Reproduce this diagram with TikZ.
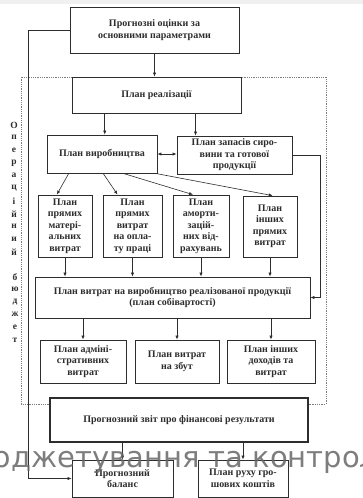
\documentclass[tikz,border=0pt]{standalone}
\usepackage{fontspec}
\setmainfont{Liberation Serif}
\newfontfamily\wmfont{DejaVu Sans}
\usetikzlibrary{arrows.meta,positioning,calc}
\definecolor{InkGrey}{RGB}{45,45,45}
\definecolor{FrameGrey}{RGB}{125,125,125}

\begin{document}
\begin{tikzpicture}[
  x=1pt,y=-1pt,
  box/.style={rectangle,draw=InkGrey,line width=0.7pt,fill=white,align=center,inner sep=1pt,font=\fontsize{10}{11.5}\selectfont\bfseries,text=InkGrey},
  arr/.style={-{Latex[length=4pt,width=3.2pt]},line width=0.6pt,draw=InkGrey},
  dbl/.style={{Latex[length=4pt,width=3.2pt]}-{Latex[length=4pt,width=3.2pt]},line width=0.6pt,draw=InkGrey},
  frame/.style={densely dotted,line width=0.8pt,draw=FrameGrey},
  lbl/.style={font=\fontsize{9.5}{10}\selectfont\bfseries,text=InkGrey,inner sep=0pt},
  wm/.style={font=\wmfont\fontsize{29}{30}\selectfont,text=black!60,opacity=0.85,inner sep=0pt}
]
\useasboundingbox (0,0) rectangle (363,498);
\fill[gray!12] (0,0) rectangle (363,4);

% operating budget frame
\coordinate (fr-nw) at (21,77);
\coordinate (fr-se) at (326,404);

\node[box,minimum width=169pt,minimum height=46pt] (forecast) at (154.5,30) {Прогнозні оцінки за\\основними параметрами};
\node[box,minimum width=258pt,minimum height=44pt,line width=1.5pt] (report) at (179,420) {Прогнозний звіт про фінансові результати};
\draw[frame] (report.west |- fr-se) -| (fr-nw) -| (fr-se) -- (report.east |- fr-se);
\node[box,minimum width=258pt,minimum height=44pt,line width=1.5pt] at (report) {Прогнозний звіт про фінансові результати};

\node[box,minimum width=169pt,minimum height=36pt] (sales) at (156.5,95) {План реалізації};
\node[box,minimum width=110pt,minimum height=38pt] (prod) at (102,154) {План виробництва};
\node[box,minimum width=115pt,minimum height=38pt] (stock) at (234.5,155) {План запасів сиро-\\вини та готової\\продукції};

\node[box,minimum width=54pt,minimum height=62pt] (mat) at (65,226) {План\\прямих\\матері-\\альних\\витрат};
\node[box,minimum width=59pt,minimum height=62pt] (labour) at (132.5,226) {План\\прямих\\витрат\\на опла-\\ту праці};
\node[box,minimum width=56pt,minimum height=62pt] (depr) at (201,226) {План\\аморти-\\зацій-\\них від-\\рахувань};
\node[box,minimum width=54pt,minimum height=61pt] (other) at (270,226.5) {План\\інших\\прямих\\витрат};

\node[box,minimum width=275pt,minimum height=41pt] (cost) at (172.5,297.5) {План витрат на виробництво реалізованої продукції\\(план собівартості)};

\node[box,minimum width=86pt,minimum height=43pt] (admin) at (83,361.5) {План адміні-\\стративних\\витрат};
\node[box,minimum width=84pt,minimum height=43pt] (selling) at (177,361.5) {План витрат\\на збут};
\node[box,minimum width=88pt,minimum height=43pt] (otherinc) at (271,361.5) {План інших\\доходів та\\витрат};

\node[box,minimum width=101pt,minimum height=37pt] (balance) at (122.5,478.5) {Прогнозний\\баланс};
\node[box,minimum width=90pt,minimum height=37pt] (cash) at (243,478.5) {План руху гро-\\шових коштів};

% vertical label
\foreach \ch [count=\i] in {О,п,е,р,а,ц,і,й,н,и,й}
  \node[lbl] (op-\i) at (14,{125+12.7*(\i-1)}) {\ch};
\foreach \ch [count=\i] in {б,ю,д,ж,е,т}
  \node[lbl] (bud-\i) at (15,{277+12.6*(\i-1)}) {\ch};

% connectors
\draw[arr] (forecast.west) -- ++(-41,0) |- (balance.west);
\draw[arr] (forecast.south) -- (forecast.south |- sales.north);
\path ($(sales.south west)!0.195!(sales.south east)$) coordinate (sales-a)
      ($(sales.south west)!0.73!(sales.south east)$) coordinate (sales-b);
\draw[arr] (sales-a) -- (sales-a |- prod.north);
\draw[arr] (sales-b) -- (sales-b |- stock.north);
\draw[dbl] (prod.east) -- (prod.east -| stock.west);
\draw[arr] (stock.east) -- ++(28,0) |- (cost.east);

\draw[arr] ($(prod.south west)!0.2!(prod.south east)$) -- ($(mat.north west)!0.35!(mat.north east)$);
\draw[arr] ($(prod.south west)!0.51!(prod.south east)$) -- ($(labour.north west)!0.25!(labour.north east)$);
\draw[arr] ($(prod.south west)!0.69!(prod.south east)$) -- ($(depr.north west)!0.36!(depr.north east)$);
\draw[arr] ($(prod.south west)!0.98!(prod.south east)$) -- ($(other.north west)!0.55!(other.north east)$);

\foreach \b in {mat,labour,depr,other}
  \draw[arr] (\b.south) -- (\b.south |- cost.north);
\foreach \b in {admin,selling,otherinc}
  \draw[arr] (cost.south -| \b.north) -- (\b.north);
\draw[arr] (report.south -| balance.north) -- (balance.north);
\draw[arr] (report.south -| cash.north) -- (cash.north);

% watermark
\node[wm,anchor=base west] (watermark) at (11,467) {\llap{Бю}джетування та контро\rlap{ль}};
\end{tikzpicture}
\end{document}
